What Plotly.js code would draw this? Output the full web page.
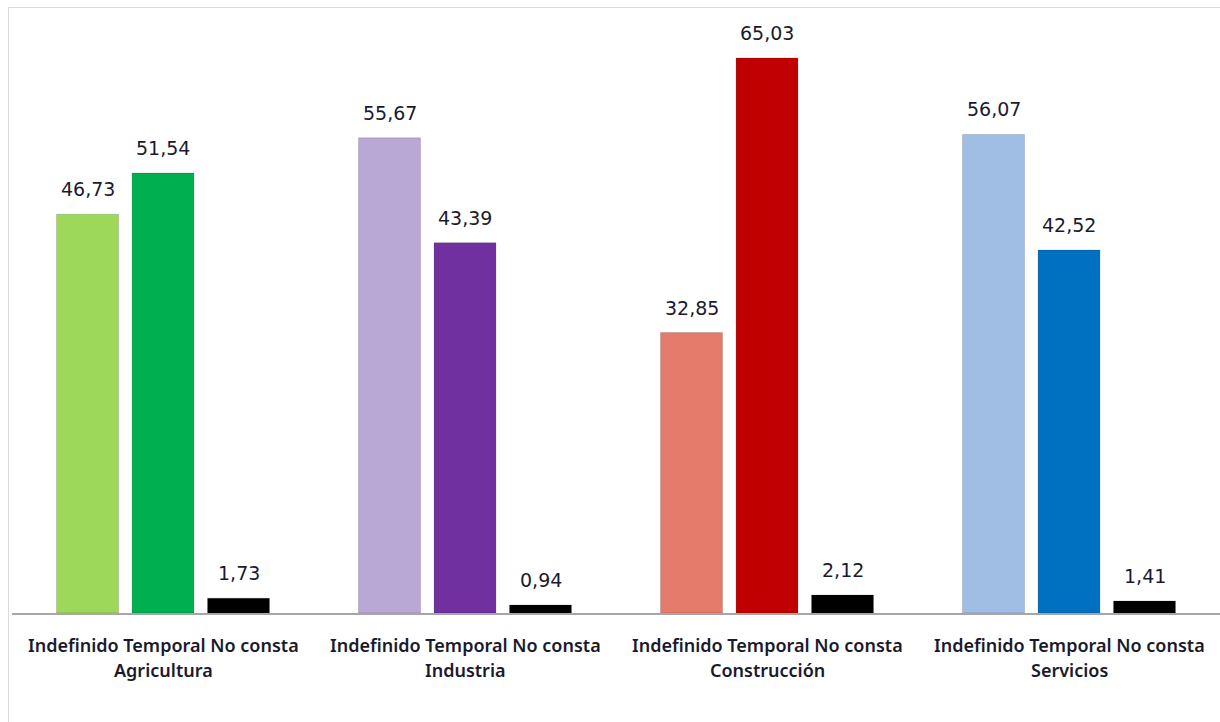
<!DOCTYPE html>
<html>
<head>
<meta charset="utf-8">
<script src="https://cdn.plot.ly/plotly-3.0.1.min.js"></script>
<style>
  html, body { margin: 0; padding: 0; background: #fff; }
  #chart { width: 1220px; height: 722px; position: absolute; left: 0; top: 0; }
  #frame { position: absolute; left: 8px; top: 7px; width: 1212px; height: 715px;
           border-left: 1px solid #d9d9d9; border-top: 1px solid #d9d9d9; pointer-events: none; }
</style>
</head>
<body>
<div id="chart"></div>
<div id="frame"></div>
<script>
const groups = ['Agricultura', 'Industria', 'Construcción', 'Servicios'];
const contracts = ['Indefinido', 'Temporal', 'No consta'];
const indefinido = [46.73, 55.67, 32.85, 56.07];
const temporal = [51.54, 43.39, 65.03, 42.52];
const noConsta = [1.73, 0.94, 2.12, 1.41];
const indefinidoColors = ['#9ed85a', '#b9a7d5', '#e57b6b', '#a0bde3'];
const temporalColors = ['#00b050', '#7030a0', '#c00000', '#0070c0'];
const noConstaColor = '#000000';

const xs = [], ys = [], cols = [];
const annotations = [];
function fmt(v) { return v.toFixed(2).replace('.', ','); }
groups.forEach((g, gi) => {
  const vals = [indefinido[gi], temporal[gi], noConsta[gi]];
  const cs = [indefinidoColors[gi], temporalColors[gi], noConstaColor];
  vals.forEach((v, si) => {
    const x = gi * 4 + (si - 1);
    xs.push(x); ys.push(v); cols.push(cs[si]);
    annotations.push({
      x: x, y: v, xref: 'x', yref: 'y', text: fmt(v), showarrow: false,
      yanchor: 'middle', yshift: 25,
      font: {family: 'DejaVu Sans', size: 19, color: '#1a1a2e'}
    });
  });
  annotations.push({
    x: gi * 4, y: 0, xref: 'x', yref: 'paper', text: contracts.join(' '), showarrow: false,
    yanchor: 'middle', yshift: -32,
    font: {family: 'Noto Sans', size: 18, color: '#1a1a2e', weight: 600}
  });
  annotations.push({
    x: gi * 4, y: 0, xref: 'x', yref: 'paper', text: g, showarrow: false,
    yanchor: 'middle', yshift: -57,
    font: {family: 'Noto Sans', size: 18, color: '#1a1a2e', weight: 600}
  });
});

const trace = {
  type: 'bar', x: xs, y: ys, width: 0.82,
  marker: {color: cols, line: {color: 'rgba(0,0,0,0.15)', width: 1}},
  hoverinfo: 'y'
};

const layout = {
  width: 1220, height: 722,
  margin: {l: 12, r: 0, t: 0, b: 109},
  paper_bgcolor: '#ffffff', plot_bgcolor: '#ffffff',
  showlegend: false,
  xaxis: {range: [-2, 14], showgrid: false, zeroline: false, showticklabels: false,
          showline: true, linecolor: '#a6a6a6', linewidth: 1.5, ticks: ''},
  yaxis: {range: [0, 71.82], showgrid: false, zeroline: false, showticklabels: false,
          showline: false, ticks: ''},
  annotations: annotations
};

Plotly.newPlot('chart', [trace], layout, {displayModeBar: false, staticPlot: true});
</script>
</body>
</html>
